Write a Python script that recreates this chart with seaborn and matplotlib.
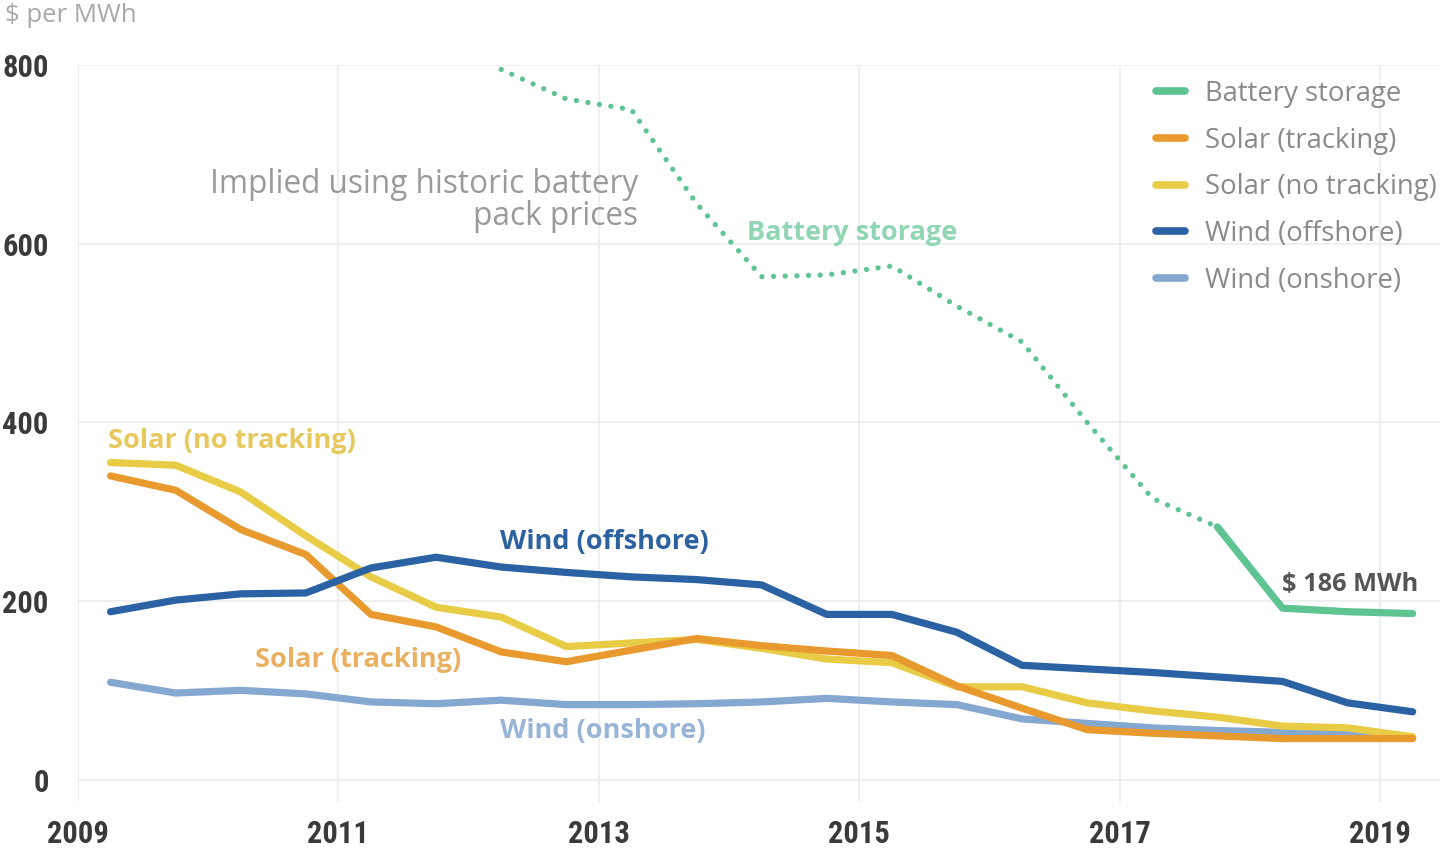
import numpy as np
import pandas as pd
import matplotlib
matplotlib.use("Agg")
import matplotlib.pyplot as plt
from matplotlib import font_manager as fm
from matplotlib.lines import Line2D
import seaborn as sns

# ---------------- data ----------------
periods = [f"{y}H{h}" for y in range(2009, 2020) for h in (1, 2)][:-1]   # 2009H1 .. 2019H1

wind_offshore = [188, 201, 208, 209, 237, 249, 238, 232, 227, 224, 218,
                 185, 185, 165, 128, 124, 120, 115, 110, 86, 76]
wind_onshore = [109, 97, 100, 96, 87, 85, 89, 84, 84, 85, 87,
                91, 87, 84, 68, 63, 58, 55, 53, 51, 47]
solar_tracking = [340, 324, 280, 252, 185, 171, 143, 132, 145, 158, 150,
                  144, 139, 105, 80, 56, 52, 49, 46, 46, 46]
solar_no_tracking = [355, 352, 322, 273, 227, 193, 182, 149, 153, 157, 147,
                     135, 131, 104, 104, 86, 77, 70, 60, 58, 48]
battery_storage = [np.nan] * 6 + [795, 762, 750, 645, 563, 565, 575, 530,
                                  490, 400, 315, 283, 192, 188, 186]
battery_implied_last = 17  # index where the implied (dotted) series ends

series_names = ["Battery storage", "Solar (tracking)", "Solar (no tracking)",
                "Wind (offshore)", "Wind (onshore)"]
colors = {"Battery storage": "#5ec492",
          "Solar (tracking)": "#e99a2e",
          "Solar (no tracking)": "#e8cc45",
          "Wind (offshore)": "#2b62a3",
          "Wind (onshore)": "#85a8d0"}

x = np.array([int(p[:4]) + (0.25 if p[-1] == "1" else 0.75) for p in periods])
df = pd.DataFrame({"x": x,
                   "Wind (offshore)": wind_offshore,
                   "Wind (onshore)": wind_onshore,
                   "Solar (tracking)": solar_tracking,
                   "Solar (no tracking)": solar_no_tracking,
                   "Battery storage": battery_storage})

# ---------------- style ----------------
sns.set_style("white")
plt.rcParams["font.family"] = ["Open Sans", "DejaVu Sans"]

names = {f.name for f in fm.fontManager.ttflist}
tick_font = None
for cand, size in [("Roboto Condensed", 22), ("Liberation Sans Narrow", 22),
                   ("Open Sans Condensed", 22), ("Noto Sans Condensed", 21)]:
    if cand in names:
        tick_font = (cand, "normal", size)
        break
if tick_font is None:
    tick_font = ("DejaVu Sans", "condensed", 18)

W, H = 1445, 851
fig = plt.figure(figsize=(W / 100, H / 100), dpi=100)
ax = fig.add_axes([78 / W, 49 / H, (1440 - 78) / W, (802 - 65) / H])

grid_c = "#ececec"
for yy in [0, 200, 400, 600, 800]:
    ax.axhline(yy, color=grid_c, lw=1.2, zorder=0)
for xx in [2009, 2011, 2013, 2015, 2017, 2019]:
    ax.axvline(xx, color=grid_c, lw=1.2, zorder=0)

lw = 5.2
order = ["Wind (onshore)", "Solar (no tracking)", "Solar (tracking)", "Wind (offshore)"]
for name in order:
    sns.lineplot(data=df, x="x", y=name, ax=ax, color=colors[name], lw=lw,
                 solid_capstyle="round", solid_joinstyle="round", zorder=3)

bat_dot = df.iloc[:battery_implied_last + 1]
bat_sol = df.iloc[battery_implied_last:]
sns.lineplot(data=bat_dot, x="x", y="Battery storage", ax=ax, color=colors["Battery storage"],
             lw=3.8, linestyle=(0, (0.01, 2.2)), dash_capstyle="round", zorder=3)
sns.lineplot(data=bat_sol, x="x", y="Battery storage", ax=ax, color=colors["Battery storage"],
             lw=lw, solid_capstyle="round", solid_joinstyle="round", zorder=3)

ax.set_xlim(2009, 2019.46)
ax.set_ylim(-25, 800)
ax.set_xlabel("")
ax.set_ylabel("")
for s in ax.spines.values():
    s.set_visible(False)

ax.set_yticks([0, 200, 400, 600, 800])
ax.set_yticklabels(["0", "200", "400", "600", "800"])
ax.set_xticks([2009, 2011, 2013, 2015, 2017, 2019])
ax.set_xticklabels(["2009", "2011", "2013", "2015", "2017", "2019"])
ax.tick_params(axis="both", length=0, labelcolor="#3a3a3a")
ax.tick_params(axis="y", pad=21)
ax.tick_params(axis="x", pad=12)
for lab in ax.get_xticklabels() + ax.get_yticklabels():
    lab.set_fontfamily(tick_font[0])
    lab.set_fontstretch(tick_font[1])
    lab.set_fontsize(tick_font[2])
    lab.set_fontweight("bold")

# ---------------- annotations ----------------
ax.text(2009.23, 379, "Solar (no tracking)", color="#e6c85c", fontsize=19.5,
        fontweight="bold", va="center", ha="left")
ax.text(2012.24, 266, "Wind (offshore)", color="#2d62a0", fontsize=19.5,
        fontweight="bold", va="center", ha="left")
ax.text(2010.36, 134, "Solar (tracking)", color="#e9b062", fontsize=19.5,
        fontweight="bold", va="center", ha="left")
ax.text(2012.24, 55, "Wind (onshore)", color="#98b4d6", fontsize=19.5,
        fontweight="bold", va="center", ha="left")
ax.text(2014.14, 612, "Battery storage", color="#90d6b2", fontsize=19.5,
        fontweight="bold", va="center", ha="left")
ax.text(2018.25, 219, "$ 186 MWh", color="#555555", fontsize=18.3,
        fontweight="bold", va="center", ha="left")
ax.text(2013.30, 648, "Implied using historic battery\npack prices", color="#9a9a9a",
        fontsize=22.7, va="center", ha="right", linespacing=0.95)

fig.text(5 / W, 1 - 15 / H, "$ per MWh", color="#a8a8a8", fontsize=18.5,
         va="center", ha="left")

# ---------------- legend ----------------
handles = [Line2D([0], [0], color=colors[n], lw=5.5, solid_capstyle="round") for n in series_names]
leg = ax.legend(handles, series_names, loc="upper left",
                bbox_to_anchor=(1156 / W, 1 - 80 / H), bbox_transform=fig.transFigure,
                frameon=False, fontsize=19.8, handlelength=1.05, handletextpad=0.72,
                labelspacing=0.68, borderpad=0, borderaxespad=0)
for t in leg.get_texts():
    t.set_color("#8a8a8a")

fig.savefig("out.png", dpi=100)
